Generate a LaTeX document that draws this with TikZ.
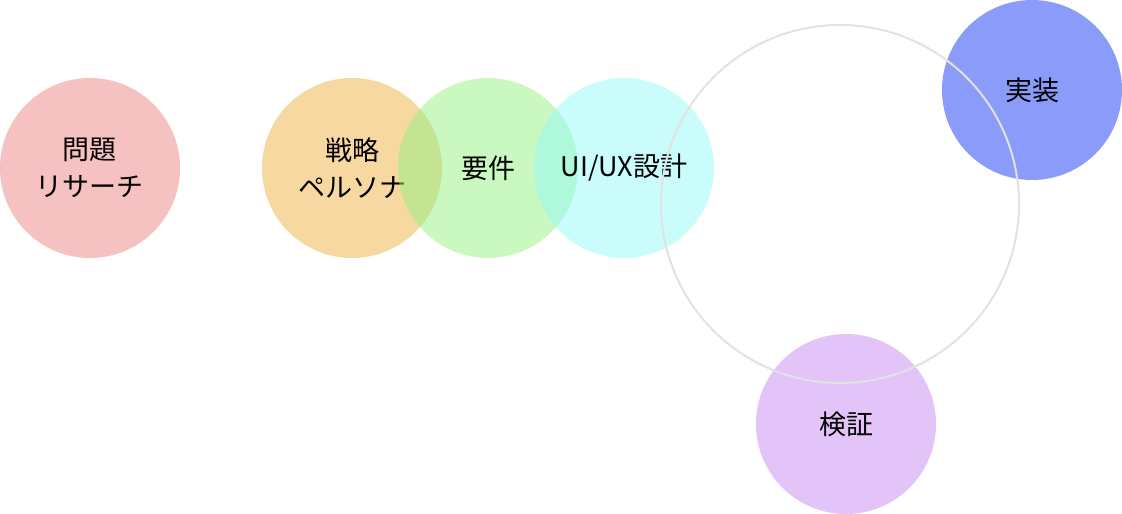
\documentclass[tikz,border=0pt]{standalone}
\usepackage{fontspec}
\newfontfamily\jp{Noto Sans CJK JP}
\definecolor{cpink}{RGB}{237,131,131}
\definecolor{corange}{RGB}{239,177,65}
\definecolor{cgreen}{RGB}{147,241,131}
\definecolor{ccyan}{RGB}{149,249,249}
\definecolor{cblue}{RGB}{21,55,243}
\definecolor{cpurple}{RGB}{197,137,243}
\definecolor{cring}{RGB}{226,226,226}
\tikzset{
  phase/.style={circle, minimum size=135pt, inner sep=0pt, fill=#1, fill opacity=0.5, text opacity=1,
    align=center, font=\jp\fontsize{20.25}{28}\selectfont},
  ring/.style={circle, minimum size=268.5pt, inner sep=0pt, draw=cring, line width=1.5pt}
}
\begin{document}
\begin{tikzpicture}[x=0.75pt,y=-0.75pt]
\useasboundingbox (0,0) rectangle (1122,514);
\node[phase=cpink] (research) at (90,168) {問題\\リサーチ};
\node[phase=corange] (strategy) at (352,168) {戦略\\ペルソナ};
\node[phase=cgreen] (req) at (488,168) {要件};
\node[phase=ccyan] (design) at (624,168) {UI/UX設計};
\node[phase=cblue] (impl) at (1032,90) {実装};
\node[phase=cpurple] (verify) at (846,424) {検証};
\node[ring] (cycle) at (840,204) {};
\end{tikzpicture}
\end{document}
